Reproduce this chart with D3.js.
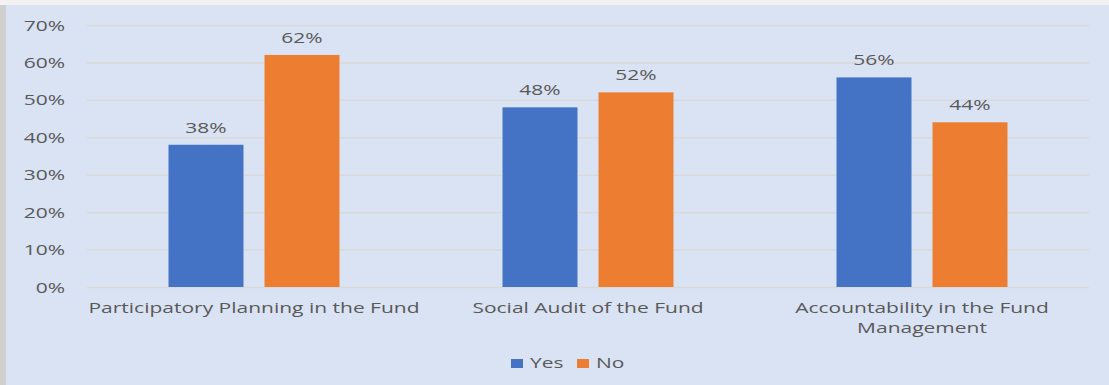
<!DOCTYPE html>
<html><head><meta charset="utf-8">
<script src="https://cdn.jsdelivr.net/npm/d3@7"></script>
<style>
html,body{margin:0;padding:0;background:#fff;}
svg{display:block;}
text{font-family:"Open Sans","Liberation Sans",sans-serif;fill:#595959;}
</style></head><body>
<svg id="chart" width="1109" height="385"></svg>
<script>
const categories = ["Participatory Planning in the Fund", "Social Audit of the Fund", "Accountability in the Fund|Management"];
const seriesNames = ["Yes", "No"];
const yesValues = [0.38, 0.48, 0.56];
const noValues = [0.62, 0.52, 0.44];
const yTicks = [0, 0.1, 0.2, 0.3, 0.4, 0.5, 0.6, 0.7];
const colors = ["#4472c4", "#ed7d31"];

(function(){
const SX = 1.4; // horizontal text stretch
const FS = 15;
const svg = d3.select("#chart");
const W = 1109, H = 385;
svg.append("rect").attr("x",0).attr("y",0).attr("width",W).attr("height",H).attr("fill","#f2f2f2");
svg.append("rect").attr("x",0).attr("y",5).attr("width",6).attr("height",H-5).attr("fill","#d0d0d0");
svg.append("rect").attr("x",6).attr("y",5).attr("width",W-6).attr("height",H-5).attr("fill","#dae3f3");

const mL = 87, mR = 1089, mT = 25, mB = 287;
const y = d3.scaleLinear().domain([0, 0.7]).range([mB, mT]);
const x0 = d3.scaleBand().domain(categories).range([mL, mR]).paddingInner(0).paddingOuter(0);
const x1 = d3.scaleBand().domain(seriesNames).range([0, x0.bandwidth()]).paddingInner(0.219).paddingOuter(0.849);

function stext(sel, xx, yy, anchor, fs, sx) {
  return sel.append("text").attr("transform", `translate(${xx},${yy}) scale(${sx||SX},1)`).attr("text-anchor", anchor).attr("font-size", fs||FS);
}

const yAxis = d3.axisLeft(y).tickValues(yTicks).tickSize(-(mR-mL)).tickFormat(d3.format(".0%"));
const ga = svg.append("g").attr("transform", `translate(${mL},0)`).call(yAxis);
ga.select(".domain").remove();
ga.selectAll(".tick line").attr("stroke", "#d9d9d9").attr("stroke-width", 1.5);
ga.selectAll(".tick text").remove();
ga.selectAll(".tick").each(function(d){
  stext(d3.select(this), -22, 5, "end").text(d3.format(".0%")(d));
});

const data = categories.map((c,i)=>({cat:c, vals:[yesValues[i], noValues[i]]}));
const groups = svg.selectAll(".grp").data(data).join("g").attr("transform", d=>`translate(${x0(d.cat)},0)`);
groups.selectAll("rect").data(d=>d.vals.map((v,j)=>({s:seriesNames[j], v, j})))
  .join("rect")
  .attr("x", d=>x1(d.s)).attr("width", x1.bandwidth())
  .attr("y", d=>y(d.v)).attr("height", d=>y(0)-y(d.v))
  .attr("fill", d=>colors[d.j]);
groups.each(function(d){
  const g = d3.select(this);
  d.vals.forEach((v,j)=>{
    stext(g, x1(seriesNames[j]) + x1.bandwidth()/2, y(v) - 12, "middle").text(d3.format(".0%")(v));
  });
  d.cat.split("|").forEach((line,k)=>{
    stext(g, x0.bandwidth()/2, 313 + k*20, "middle").text(line);
  });
});

const legend = svg.append("g");
const lx = [511, 577];
seriesNames.forEach((s,i)=>{
  legend.append("rect").attr("x", lx[i]).attr("y", 359).attr("width", 12).attr("height", 9).attr("fill", colors[i]);
  stext(legend, lx[i]+19, 368, "start").text(s);
});
})();
</script>
</body></html>
